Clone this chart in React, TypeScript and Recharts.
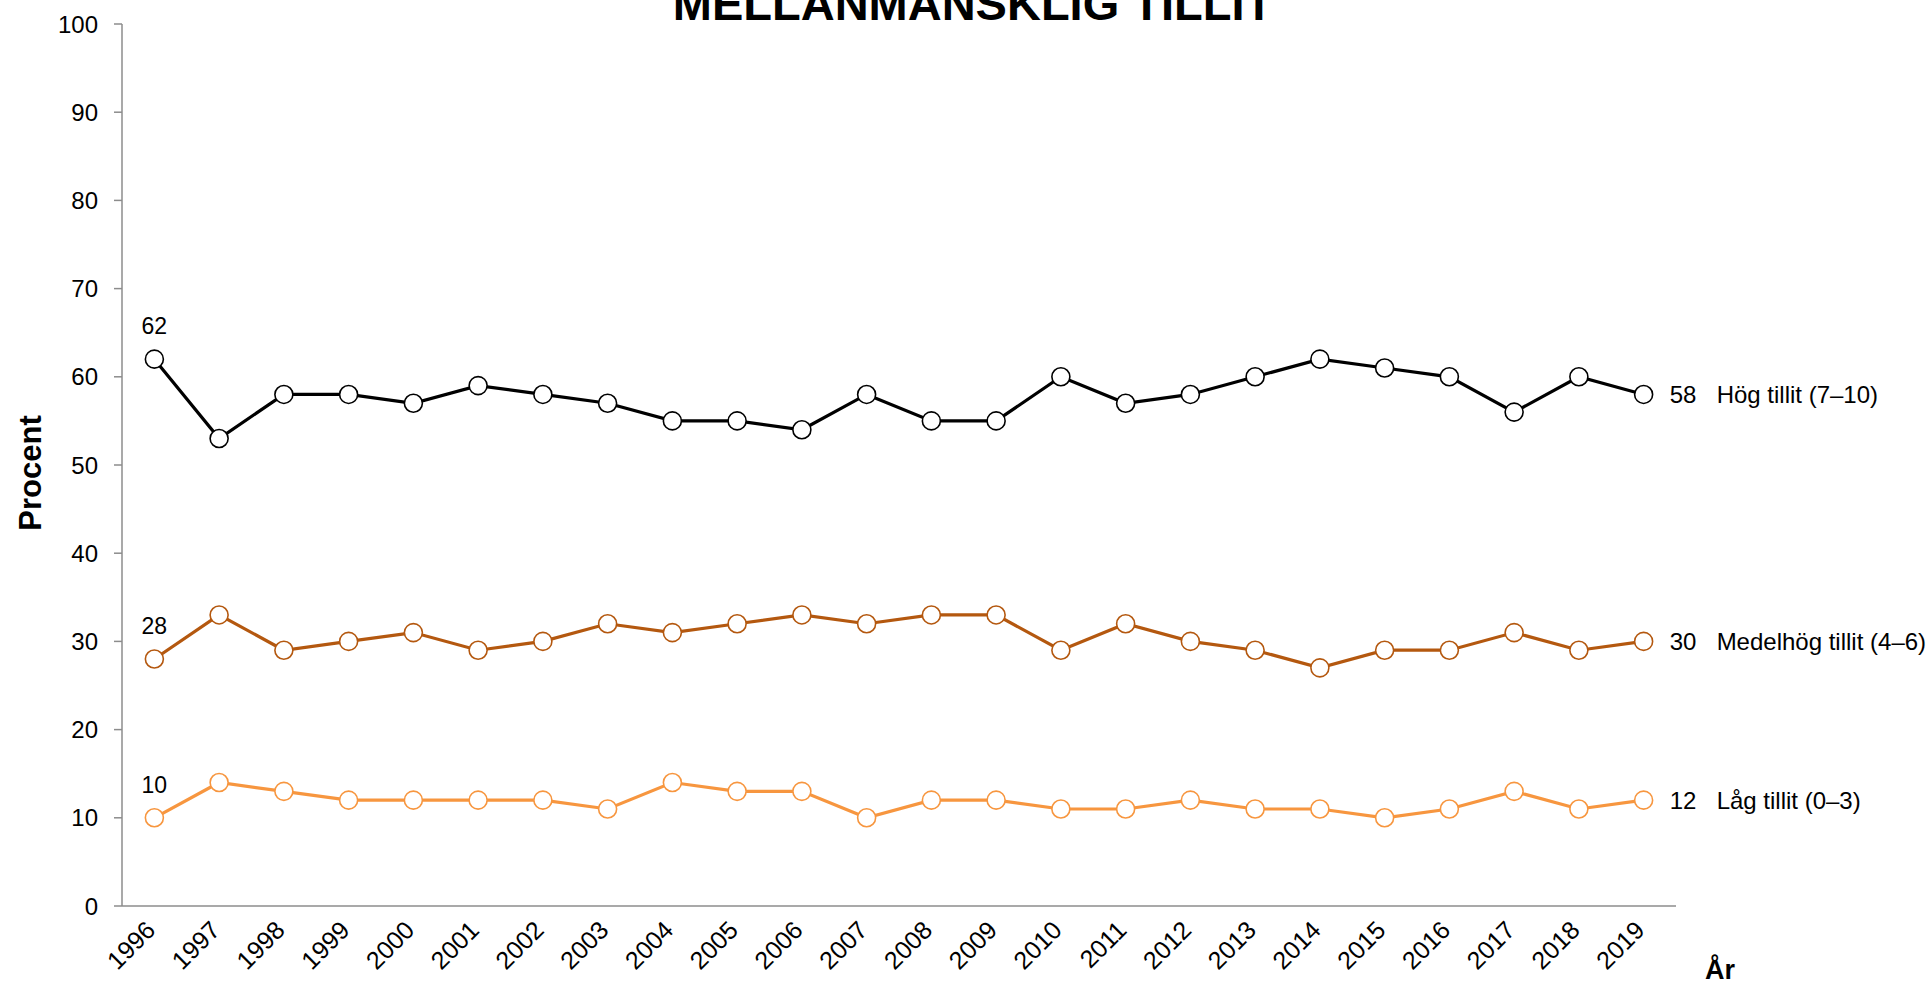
import React from 'react';
import { LineChart, Line, XAxis, YAxis } from 'recharts';

const years = [1996, 1997, 1998, 1999, 2000, 2001, 2002, 2003, 2004, 2005, 2006, 2007, 2008, 2009, 2010, 2011, 2012, 2013, 2014, 2015, 2016, 2017, 2018, 2019];
const hog = [62, 53, 58, 58, 57, 59, 58, 57, 55, 55, 54, 58, 55, 55, 60, 57, 58, 60, 62, 61, 60, 56, 60, 58];
const medel = [28, 33, 29, 30, 31, 29, 30, 32, 31, 32, 33, 32, 33, 33, 29, 32, 30, 29, 27, 29, 29, 31, 29, 30];
const lag = [10, 14, 13, 12, 12, 12, 12, 11, 14, 13, 13, 10, 12, 12, 11, 11, 12, 11, 11, 10, 11, 13, 11, 12];
const yTicks = [0, 10, 20, 30, 40, 50, 60, 70, 80, 90, 100];
const seriesNames = ['Hög tillit (7–10)', 'Medelhög tillit (4–6)', 'Låg tillit (0–3)'];
const seriesColors = ['#000000', '#b4580f', '#f7963f'];
const title = 'MELLANMANSKLIG TILLIT';
const yTitle = 'Procent';
const xTitle = 'År';

const data = years.map((year, i) => ({ year, hog: hog[i], medel: medel[i], lag: lag[i] }));
const edgeTicks = [...years.map((y) => y - 0.5), years[years.length - 1] + 0.5];
const xDomain = [edgeTicks[0], edgeTicks[edgeTicks.length - 1]];

const AXIS = '#8c8c8c';
const FONT = '"Liberation Sans", Arial, sans-serif';

const makeLabel = (name: string) => (props: any) => {
  const { x, y, index, value } = props;
  if (index === 0) {
    return (
      <text x={x} y={y - 25} textAnchor="middle" fontSize={23} fill="#000" fontFamily={FONT}>
        {value}
      </text>
    );
  }
  if (index === years.length - 1) {
    return (
      <g>
        <text x={x + 26} y={y} dy="0.35em" textAnchor="start" fontSize={24} fill="#000" fontFamily={FONT}>
          {value}
        </text>
        <text x={x + 73} y={y} dy="0.35em" textAnchor="start" fontSize={24} fill="#000" fontFamily={FONT}>
          {name}
        </text>
      </g>
    );
  }
  return <g />;
};

export default function App() {
  const keys = ['hog', 'medel', 'lag'];
  return (
    <div style={{ position: 'absolute', left: 0, top: 0, width: 1928, height: 984, fontFamily: FONT, background: '#fff' }}>
      <LineChart width={1928} height={984} data={data} margin={{ top: 24, right: 252, bottom: 0, left: 0 }}>
        <XAxis
          xAxisId="edges"
          type="number"
          domain={xDomain}
          allowDataOverflow
          ticks={edgeTicks}
          tick={false}
          tickSize={8}
          tickLine={{ stroke: AXIS, strokeWidth: 1.5 }}
          axisLine={{ stroke: AXIS, strokeWidth: 1.5 }}
          height={1}
          interval={0}
        />
        <XAxis
          xAxisId="main"
          dataKey="year"
          type="number"
          domain={xDomain}
          ticks={years}
          interval={0}
          axisLine={false}
          tickLine={false}
          tickSize={8}
          tickMargin={4}
          angle={-45}
          textAnchor="end"
          tick={{ fontSize: 25, fill: '#000', textAnchor: 'end', dx: -10 }}
          height={77}
        />
        <YAxis
          type="number"
          domain={[0, 100]}
          ticks={yTicks}
          interval={0}
          width={122}
          tickSize={8}
          tickMargin={16}
          tick={{ fontSize: 24, fill: '#000' }}
          tickLine={{ stroke: AXIS, strokeWidth: 1.5 }}
          axisLine={{ stroke: AXIS, strokeWidth: 1.5 }}
        />
        {keys.map((k, i) => (
          <Line
            key={k}
            xAxisId="main"
            dataKey={k}
            stroke={seriesColors[i]}
            strokeWidth={3.2}
            isAnimationActive={false}
            dot={{ r: 9, fill: '#fff', stroke: seriesColors[i], strokeWidth: 1.6 }}
            activeDot={false}
            label={makeLabel(seriesNames[i])}
          />
        ))}
      </LineChart>
      <svg width={1928} height={984} style={{ position: 'absolute', left: 0, top: 0, pointerEvents: 'none' }}>
        <text x={973} y={20} textAnchor="middle" fontSize={47} fontWeight="bold" fill="#000" fontFamily={FONT}>
          {title}
        </text>
        <text
          x={41}
          y={473}
          transform="rotate(-90 41 473)"
          textAnchor="middle"
          fontSize={31}
          fontWeight="bold"
          fill="#000"
          fontFamily={FONT}
        >
          {yTitle}
        </text>
        <text x={1705} y={979} textAnchor="start" fontSize={27} fontWeight="bold" fill="#000" fontFamily={FONT}>
          {xTitle}
        </text>
      </svg>
    </div>
  );
}
